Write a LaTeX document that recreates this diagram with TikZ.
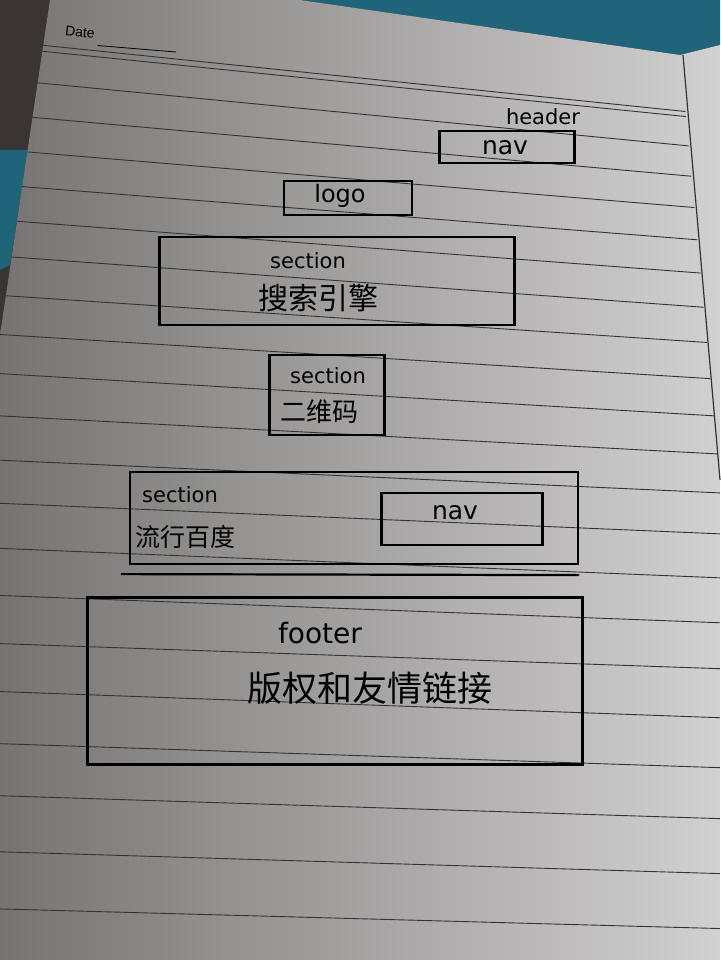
\documentclass[tikz,border=0pt]{standalone}
\usepackage{fontspec}
\newfontfamily\cjk{Noto Sans CJK SC}
\newfontfamily\printfont{Liberation Sans}
\newfontfamily\penfont{DejaVu Sans}
\usetikzlibrary{positioning, calc}
\definecolor{deskdark}{HTML}{3A3434}
\definecolor{desktea}{HTML}{1F6478}
\definecolor{paperlight}{HTML}{D2D1D1}
\definecolor{paperdark}{HTML}{777373}
\tikzset{
    box/.style={draw, line width=2.2pt, inner sep=0pt},
    word/.style={font=\penfont\fontsize{21}{24}\selectfont, inner sep=1pt},
    hanzi/.style={font=\cjk\fontsize{29}{32}\selectfont, inner sep=1pt},
    rule/.style={draw=black!80, line width=0.9pt},
    place/.style={inner sep=0pt, outer sep=0pt}
}

\begin{document}
\begin{tikzpicture}[x=1pt, y=-1pt]
  \useasboundingbox (0,0) rectangle (720,960);
  % desk and notebook page
  \fill[deskdark] (0,0) rectangle (720,960);
  \fill[desktea] (300,0) -- (720,0) -- (720,45) -- (680,55) -- cycle;
  \fill[desktea] (0,150) -- (28,150) -- (10,265) -- (0,270) -- cycle;
  \shade[left color=paperdark, right color=paperlight]
    (50,0) -- (300,0) -- (680,55) -- (720,45) -- (720,960) -- (0,960) -- (0,335) -- cycle;
  \draw[line width=1.2pt, black!80] (683,55) -- (720,480);
  \begin{scope}
    \clip (50,0) -- (300,0) -- (680,55) -- (720,480) -- (720,960) -- (0,960) -- (0,335) -- cycle;
    \foreach \l/\r in {45/113, 51/118, 83/147, 118/177, 153/208, 188/240, 223/273,
                       259/307, 298/342, 337/378, 376/415, 418/453, 462/492, 505/533,
                       550/577, 597/622, 645/668, 693/717, 745/767, 797/818, 853/873, 910/928}
      \draw[rule] ($(40,\l)!-0.07!(700,\r)$) -- ($(40,\l)!1.05!(700,\r)$);
  \end{scope}
  \node[place, font=\printfont\fontsize{14}{16}\selectfont, rotate=-6] (date) at (80,32) {Date};
  \coordinate (dateend) at (176,52);
  \draw[line width=0.8pt] ($(date.east)+(3,12)$) -- (dateend);

  % header
  \node(header)[word] at (543,117) {header};
  \node(navA)[box, minimum width=135pt, minimum height=32pt] at (507,147) {};
  \node[word, font=\penfont\fontsize{25}{26}\selectfont] at (505,148) {nav};
  \node(logo)[box, minimum width=128pt, minimum height=34pt] at (348,198) {};
  \node[word, font=\penfont\fontsize{24}{26}\selectfont] at (340,196) {logo};

  % sections
  \node(secA)[box, minimum width=355pt, minimum height=88pt] at (337,281) {};
  \node(secAt)[word] at (308,261) {section};
  \node(secAc)[hanzi, font=\cjk\fontsize{30}{32}\selectfont] at (318,298) {搜索引擎};

  \node(secB)[box, minimum width=115pt, minimum height=80pt] at (327,395) {};
  \node(secBt)[word] at (328,376) {section};
  \node(secBc)[hanzi, font=\cjk\fontsize{26}{28}\selectfont] at (319,412) {二维码};

  \node(secC)[box, minimum width=448pt, minimum height=92pt] at (354,518) {};
  \node(secCt)[word] at (180,495) {section};
  \node(secCc)[hanzi, font=\cjk\fontsize{25}{28}\selectfont] at (185,537) {流行百度};
  \node(navB)[box, minimum width=161pt, minimum height=52pt] at (462,519) {};
  \node[word, font=\penfont\fontsize{25}{26}\selectfont] at (455,513) {nav};
  \draw[line width=2.2pt] ($(secC.south west)+(-8,9)$) -- ($(secC.south east)+(0,10)$);

  % footer
  \node(foot)[box, minimum width=495pt, minimum height=167pt] at (335,681) {};
  \node(foott)[word, font=\penfont\fontsize{28}{30}\selectfont] at (320,633) {footer};
  \node(footc)[hanzi, font=\cjk\fontsize{35}{38}\selectfont] at (370,688) {版权和友情链接};
\end{tikzpicture}
\end{document}
